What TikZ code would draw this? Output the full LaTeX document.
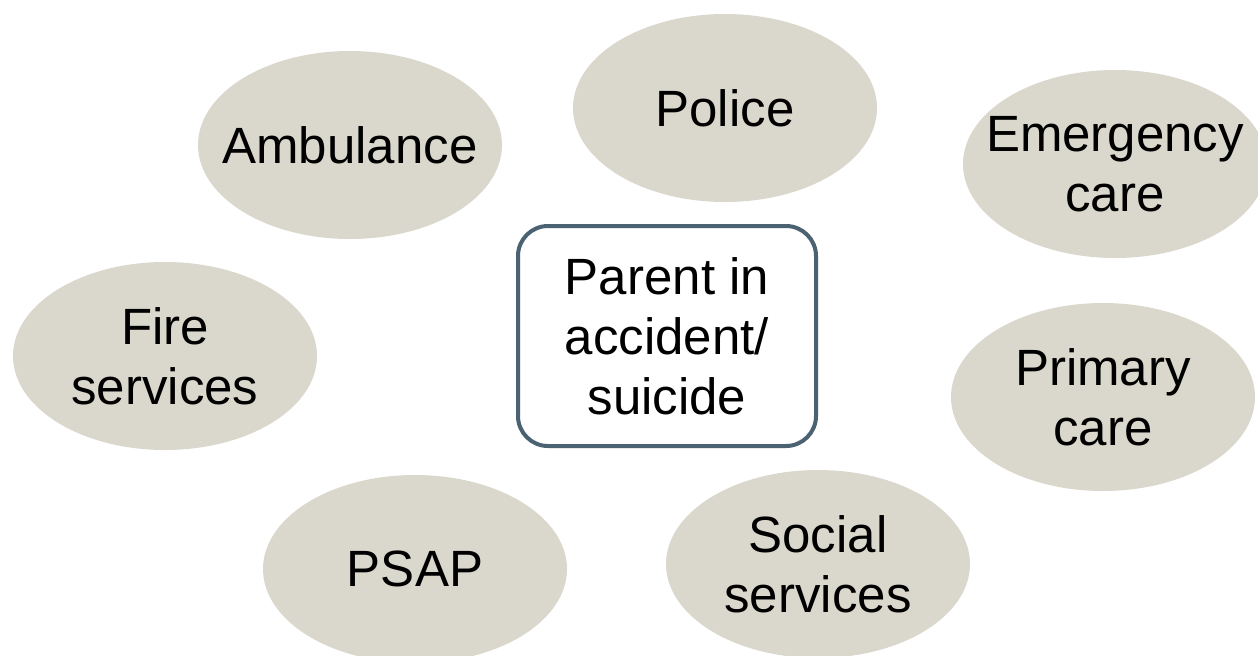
\documentclass[tikz,border=0pt]{standalone}
\usepackage{fontspec}
\setmainfont{Liberation Sans}
\usetikzlibrary{shapes.geometric}
\definecolor{agency}{HTML}{DAD8CC}
\definecolor{slate}{HTML}{4A6272}
\tikzset{
	agency/.style={ellipse, fill=agency, minimum width=152pt, minimum height=94pt, inner xsep=-25pt, inner ysep=-10pt, align=center, font=\fontsize{25.5}{30}\selectfont},
	event/.style={draw=slate, line width=2pt, rounded corners=15pt, fill=white, minimum width=149pt, minimum height=110pt, align=center, font=\fontsize{25.5}{30}\selectfont}
}
\begin{document}
\begin{tikzpicture}[x=0.5pt, y=-0.5pt]
	\useasboundingbox (0,0) rectangle (1258,655);
	\node (parent) [event] at (667,336) {Parent in\\accident/\\suicide};
	\node (ambulance) [agency] at (350,145) {Ambulance};
	\node (police) [agency] at (725,108) {Police};
	\node (emergency) [agency] at (1115,164) {Emergency\\care};
	\node (fire) [agency] at (165,356) {Fire\\services};
	\node (primary) [agency] at (1103,397) {Primary\\care};
	\node (psap) [agency] at (415,569) {PSAP};
	\node (social) [agency] at (818,564) {Social\\services};
\end{tikzpicture}
\end{document}
